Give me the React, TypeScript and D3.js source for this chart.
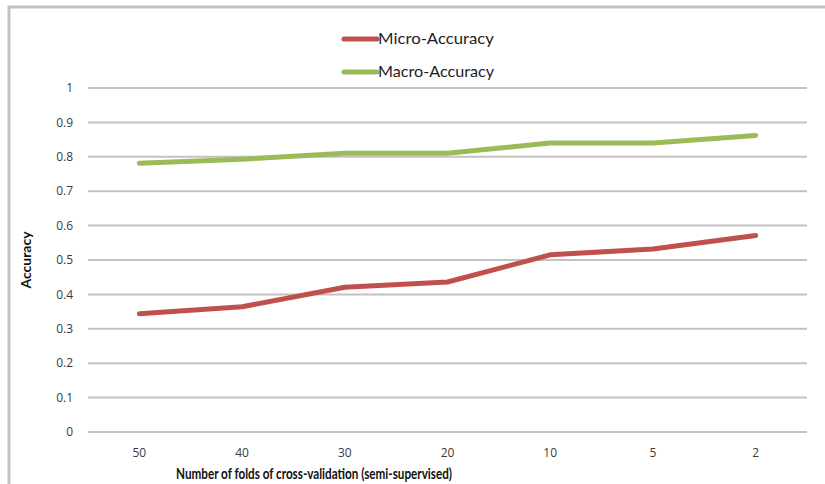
import React, { useEffect, useRef } from 'react';
import * as d3 from 'd3';

const folds = ['50', '40', '30', '20', '10', '5', '2'];
const microAccuracy = [0.344, 0.364, 0.421, 0.436, 0.515, 0.532, 0.571];
const macroAccuracy = [0.781, 0.793, 0.81, 0.81, 0.84, 0.84, 0.862];
const yTicks = [0, 0.1, 0.2, 0.3, 0.4, 0.5, 0.6, 0.7, 0.8, 0.9, 1];

const App = () => {
	const chartRef = useRef<SVGSVGElement>(null);

	useEffect(() => {
		if (!chartRef.current) return;
		const svg = d3.select(chartRef.current);
		svg.selectAll('*').remove();

		const font = 'Lato, "Open Sans", sans-serif';
		const tickFont = '"Open Sans", sans-serif';
		const left = 88, right = 807, top = 88, bottom = 432;

		// outer chart frame (cut off at right and bottom like the original)
		svg.append('rect')
			.attr('x', 9).attr('y', 7)
			.attr('width', 840).attr('height', 500)
			.attr('fill', '#fff')
			.attr('stroke', '#c4c4c4')
			.attr('stroke-width', 3);

		const x = d3.scaleBand().domain(folds).range([left, right]);
		const y = d3.scaleLinear().domain([0, 1]).range([bottom, top]);

		// gridlines
		svg.append('g')
			.selectAll('line')
			.data(yTicks)
			.join('line')
			.attr('x1', left).attr('x2', right)
			.attr('y1', d => y(d)).attr('y2', d => y(d))
			.attr('stroke', '#c2c2c2')
			.attr('stroke-width', 2);

		// y tick labels
		svg.append('g')
			.selectAll('text')
			.data(yTicks)
			.join('text')
			.attr('x', 73)
			.attr('y', d => y(d))
			.attr('dy', '0.35em')
			.attr('text-anchor', 'end')
			.style('font-family', tickFont)
			.style('font-size', '12px')
			.attr('fill', '#3a3a3a')
			.text(d => String(d));

		// x tick labels
		svg.append('g')
			.selectAll('text')
			.data(folds)
			.join('text')
			.attr('x', d => (x(d) ?? 0) + x.bandwidth() / 2)
			.attr('y', 457)
			.attr('text-anchor', 'middle')
			.style('font-family', tickFont)
			.style('font-size', '12px')
			.attr('fill', '#3a3a3a')
			.text(d => d);

		// axis titles
		svg.append('text')
			.attr('x', 314).attr('y', 479)
			.attr('text-anchor', 'middle')
			.attr('textLength', 276)
			.attr('lengthAdjust', 'spacingAndGlyphs')
			.style('font-family', font)
			.style('font-size', '14.5px')
			.style('font-weight', 'bold')
			.attr('fill', '#111')
			.text('Number of folds of cross-validation (semi-supervised)');

		svg.append('text')
			.attr('transform', `translate(31,${(top + bottom) / 2}) rotate(-90)`)
			.attr('text-anchor', 'middle')
			.attr('textLength', 57)
			.attr('lengthAdjust', 'spacingAndGlyphs')
			.style('font-family', font)
			.style('font-size', '14px')
			.style('font-weight', 'bold')
			.attr('fill', '#111')
			.text('Accuracy');

		const series = [
			{ name: 'Micro-Accuracy', values: microAccuracy, color: '#c0504d' },
			{ name: 'Macro-Accuracy', values: macroAccuracy, color: '#9bbb59' }
		];

		const line = d3.line<number>()
			.x((d, i) => (x(folds[i]) ?? 0) + x.bandwidth() / 2)
			.y(d => y(d));

		series.forEach(s => {
			svg.append('path')
				.datum(s.values)
				.attr('fill', 'none')
				.attr('stroke', s.color)
				.attr('stroke-width', 5)
				.attr('stroke-linejoin', 'round')
				.attr('stroke-linecap', 'round')
				.attr('d', line);
		});

		// legend
		series.forEach((s, i) => {
			const ly = 39 + i * 33;
			svg.append('line')
				.attr('x1', 344).attr('x2', 377)
				.attr('y1', ly).attr('y2', ly)
				.attr('stroke', s.color)
				.attr('stroke-width', 5)
				.attr('stroke-linecap', 'round');
			svg.append('text')
				.attr('x', 378).attr('y', ly)
				.attr('dy', '0.36em')
				.attr('textLength', 116)
				.attr('lengthAdjust', 'spacingAndGlyphs')
				.style('font-family', font)
				.style('font-size', '15px')
				.attr('fill', '#1e1e1e')
				.text(s.name);
		});
	}, []);

	return (
		<svg
			ref={chartRef}
			width={825}
			height={484}
			style={{ position: 'absolute', left: 0, top: 0, background: '#fff' }}
		/>
	);
};

export default App;
